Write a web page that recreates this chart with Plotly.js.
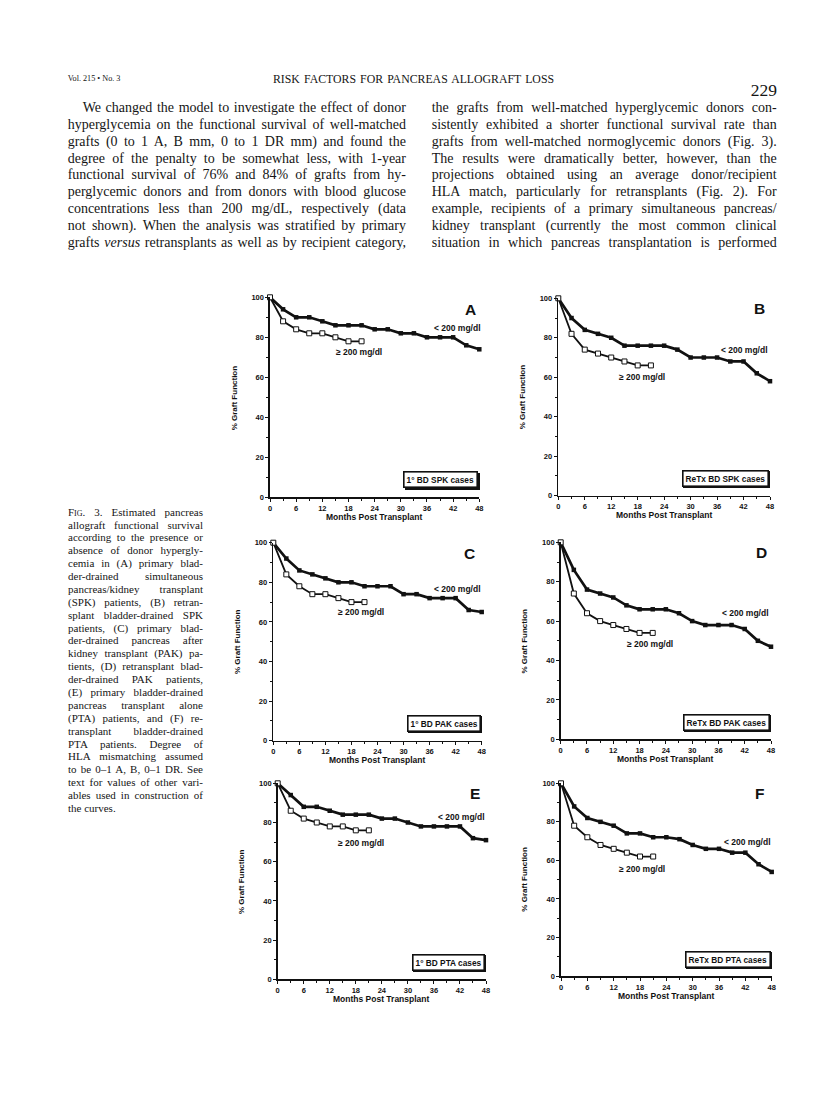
<!DOCTYPE html>
<html>
<head>
<meta charset="utf-8">
<script src="https://cdn.plot.ly/plotly-3.0.1.min.js"></script>
<style>
  html, body { margin: 0; padding: 0; background: #fff; }
  #page { position: relative; width: 816px; height: 1116px; overflow: hidden; background: #fff; }
  #plot { position: absolute; left: 0; top: 0; width: 816px; height: 1116px; }
  .t { position: absolute; font-family: "Liberation Serif", "Times New Roman", serif; color: #151515; white-space: nowrap; z-index: 5; }
  .sc { font-variant: small-caps; }
</style>
</head>
<body>
<div id="page"><div id="plot"></div></div>
<script>
// ---------------- data ----------------
const months = [0, 3, 6, 9, 12, 15, 18, 21, 24, 27, 30, 33, 36, 39, 42, 45, 48];
const monthsHigh = [0, 3, 6, 9, 12, 15, 18, 21];
const xTickVals = [0, 6, 12, 18, 24, 30, 36, 42, 48];
const yTickVals = [0, 20, 40, 60, 80, 100];

const panelLetters = ['A', 'B', 'C', 'D', 'E', 'F'];
const caseLabels = ['1° BD SPK cases', 'ReTx BD SPK cases', '1° BD PAK cases',
                    'ReTx BD PAK cases', '1° BD PTA cases', 'ReTx BD PTA cases'];
const lowLabel = '< 200 mg/dl';
const highLabel = '≥ 200 mg/dl';
const yTitle = '% Graft Function';
const xTitle = 'Months Post Transplant';

const lowA  = [100, 94, 90, 90, 88, 86, 86, 86, 84, 84, 82, 82, 80, 80, 80, 76, 74];
const highA = [100, 88, 84, 82, 82, 80, 78, 78];
const lowB  = [100, 90, 84, 82, 80, 76, 76, 76, 76, 74, 70, 70, 70, 68, 68, 62, 58];
const highB = [100, 82, 74, 72, 70, 68, 66, 66];
const lowC  = [100, 92, 86, 84, 82, 80, 80, 78, 78, 78, 74, 74, 72, 72, 72, 66, 65];
const highC = [100, 84, 78, 74, 74, 72, 70, 70];
const lowD  = [100, 86, 76, 74, 72, 68, 66, 66, 66, 64, 60, 58, 58, 58, 56, 50, 47];
const highD = [100, 74, 64, 60, 58, 56, 54, 54];
const lowE  = [100, 94, 88, 88, 86, 84, 84, 84, 82, 82, 80, 78, 78, 78, 78, 72, 71];
const highE = [100, 86, 82, 80, 78, 78, 76, 76];
const lowF  = [100, 88, 82, 80, 78, 74, 74, 72, 72, 71, 68, 66, 66, 64, 64, 58, 54];
const highF = [100, 78, 72, 68, 66, 64, 62, 62];

const lowSeries = [lowA, lowB, lowC, lowD, lowE, lowF];
const highSeries = [highA, highB, highC, highD, highE, highF];

// ---------------- page text ----------------
const headerLeft = 'Vol. 215 • No. 3';
const headerTitle = 'RISK FACTORS FOR PANCREAS ALLOGRAFT LOSS';
const pageNumber = '229';

const leftColumn = [
  'We changed the model to investigate the effect of donor',
  'hyperglycemia on the functional survival of well-matched',
  'grafts (0 to 1 A, B mm, 0 to 1 DR mm) and found the',
  'degree of the penalty to be somewhat less, with 1-year',
  'functional survival of 76% and 84% of grafts from hy-',
  'perglycemic donors and from donors with blood glucose',
  'concentrations less than 200 mg/dL, respectively (data',
  'not shown). When the analysis was stratified by primary',
  'grafts <i>versus</i> retransplants as well as by recipient category,'
];
const rightColumn = [
  'the grafts from well-matched hyperglycemic donors con-',
  'sistently exhibited a shorter functional survival rate than',
  'grafts from well-matched normoglycemic donors (Fig. 3).',
  'The results were dramatically better, however, than the',
  'projections obtained using an average donor/recipient',
  'HLA match, particularly for retransplants (Fig. 2). For',
  'example, recipients of a primary simultaneous pancreas/',
  'kidney transplant (currently the most common clinical',
  'situation in which pancreas transplantation is performed'
];
const captionLines = [
  '<span class="sc">Fig.</span> 3. Estimated pancreas',
  'allograft functional survival',
  'according to the presence or',
  'absence of donor hypergly-',
  'cemia in (A) primary blad-',
  'der-drained simultaneous',
  'pancreas/kidney transplant',
  '(SPK) patients, (B) retran-',
  'splant bladder-drained SPK',
  'patients, (C) primary blad-',
  'der-drained pancreas after',
  'kidney transplant (PAK) pa-',
  'tients, (D) retransplant blad-',
  'der-drained PAK patients,',
  '(E) primary bladder-drained',
  'pancreas transplant alone',
  '(PTA) patients, and (F) re-',
  'transplant bladder-drained',
  'PTA patients. Degree of',
  'HLA mismatching assumed',
  'to be 0–1 A, B, 0–1 DR. See',
  'text for values of other vari-',
  'ables used in construction of',
  'the curves.'
];

// ---------------- layout geometry (pixels) ----------------
const W = 816, H = 1116;
// [x at 0 months, x at 48 months, y at 100%, y at 0%]
const boxes = [
  [270.0, 479.3, 297.3, 497.3],
  [558.3, 770.0, 298.3, 495.7],
  [273.3, 481.7, 542.7, 740.7],
  [560.7, 771.0, 542.3, 739.3],
  [277.7, 486.0, 783.3, 979.3],
  [561.0, 771.7, 783.3, 976.0]
];
// label anchors: [letterX, letterY, lowRightShiftPx, lowY, highCenterX, highY]
const labelPos = [
  [45.9, 93.7, 4.0, 84.5, 20.5, 72.8],
  [45.6, 95.0, 0.0, 74.0, 18.9, 60.3],
  [45.3, 94.6, 1.7, 76.8, 20.1, 65.2],
  [45.9, 94.8, 0.0, 64.3, 20.4, 48.6],
  [45.5, 94.9, 1.0, 83.0, 19.1, 69.7],
  [45.3, 94.8, 1.0, 69.4, 18.4, 55.4]
];

const INK = '#111111';
const SANS = '"Liberation Sans", Arial, Helvetica, sans-serif';

const traces = [];
const layout = {
  width: W, height: H,
  margin: {l: 0, r: 0, t: 0, b: 0, pad: 0},
  paper_bgcolor: 'rgba(0,0,0,0)',
  plot_bgcolor: 'rgba(0,0,0,0)',
  showlegend: false,
  annotations: [],
  shapes: []
};

boxes.forEach((b, i) => {
  const n = i + 1;
  const xa = n === 1 ? 'xaxis' : 'xaxis' + n;
  const ya = n === 1 ? 'yaxis' : 'yaxis' + n;
  const xr = n === 1 ? 'x' : 'x' + n;
  const yr = n === 1 ? 'y' : 'y' + n;
  const [x0, x1, yt, yb] = b;

  layout[xa] = {
    domain: [x0 / W, x1 / W], anchor: yr, range: [0, 48],
    tickvals: xTickVals, ticks: 'outside', ticklen: 3, tickwidth: 1, tickcolor: INK,
    minor: {dtick: 3, tick0: 0, ticks: 'outside', ticklen: 2, tickwidth: 1, tickcolor: INK},
    showline: true, linecolor: INK, linewidth: 1.6, mirror: false,
    showgrid: false, zeroline: false, fixedrange: true,
    tickfont: {family: SANS, size: 7.5, color: INK, weight: 'bold'}
  };
  layout[ya] = {
    domain: [1 - yb / H, 1 - yt / H], anchor: xr, range: [0, 100],
    tickvals: yTickVals, ticks: 'outside', ticklen: 3, tickwidth: 1, tickcolor: INK,
    minor: {dtick: 10, tick0: 0, ticks: 'outside', ticklen: 2, tickwidth: 1, tickcolor: INK},
    showline: true, linecolor: INK, linewidth: 1.6, mirror: false,
    showgrid: false, zeroline: false, fixedrange: true,
    tickfont: {family: SANS, size: 7.5, color: INK, weight: 'bold'}
  };

  traces.push({
    type: 'scatter', mode: 'lines+markers', x: months, y: lowSeries[i],
    xaxis: xr, yaxis: yr, cliponaxis: false,
    line: {color: INK, width: 2.7},
    marker: {symbol: 'square', size: 4.5, color: INK, line: {width: 0}},
    hoverinfo: 'skip'
  });
  traces.push({
    type: 'scatter', mode: 'lines+markers', x: monthsHigh, y: highSeries[i],
    xaxis: xr, yaxis: yr, cliponaxis: false,
    line: {color: INK, width: 1.8},
    marker: {symbol: 'square', size: 5, color: '#ffffff', line: {width: 1, color: INK}},
    hoverinfo: 'skip'
  });

  const p = labelPos[i];
  layout.annotations.push({
    xref: xr, yref: yr, x: p[0], y: p[1], text: panelLetters[i], showarrow: false,
    font: {family: SANS, size: 15.5, color: INK, weight: 'bold'}, xanchor: 'center', yanchor: 'middle'
  });
  layout.annotations.push({
    xref: xr, yref: yr, x: 48, y: p[3], xshift: p[2], text: lowLabel, showarrow: false,
    font: {family: SANS, size: 8.5, color: INK, weight: 'bold'}, xanchor: 'right', yanchor: 'middle'
  });
  layout.annotations.push({
    xref: xr, yref: yr, x: p[4], y: p[5], text: highLabel, showarrow: false,
    font: {family: SANS, size: 8.5, color: INK, weight: 'bold'}, xanchor: 'center', yanchor: 'middle'
  });
  // case label box: drop shadow first, then the framed label
  layout.annotations.push({
    xref: xr, yref: yr, x: 47.8, y: 8.7, xshift: 1.3, yshift: -1.3, text: caseLabels[i], showarrow: false,
    font: {family: SANS, size: 8.3, color: INK, weight: 'bold'}, xanchor: 'right', yanchor: 'middle',
    bordercolor: INK, borderwidth: 1.6, borderpad: 2, bgcolor: INK
  });
  layout.annotations.push({
    xref: xr, yref: yr, x: 47.8, y: 8.7, text: caseLabels[i], showarrow: false,
    font: {family: SANS, size: 8.3, color: INK, weight: 'bold'}, xanchor: 'right', yanchor: 'middle',
    bordercolor: INK, borderwidth: 1.6, borderpad: 2, bgcolor: '#ffffff'
  });
  // axis titles
  layout.annotations.push({
    xref: 'paper', yref: 'paper', x: (x0 - 36) / W, y: 1 - ((yt + yb) / 2) / H,
    text: yTitle, textangle: -90, showarrow: false,
    font: {family: SANS, size: 8, color: INK, weight: 'bold'}, xanchor: 'center', yanchor: 'middle'
  });
  layout.annotations.push({
    xref: 'paper', yref: 'paper', x: ((x0 + x1) / 2) / W, y: 1 - (yb + 19.5) / H,
    text: xTitle, showarrow: false,
    font: {family: SANS, size: 8.5, color: INK, weight: 'bold'}, xanchor: 'center', yanchor: 'middle'
  });
});

Plotly.newPlot('plot', traces, layout, {displayModeBar: false, staticPlot: true});

// ---------------- page text placement ----------------
const page = document.getElementById('page');
function addText(html, left, centerY, size, lh, extra) {
  const d = document.createElement('div');
  d.className = 't';
  d.style.left = left + 'px';
  d.style.top = (centerY - lh / 2) + 'px';
  d.style.fontSize = size + 'px';
  d.style.lineHeight = lh + 'px';
  d.innerHTML = html;
  if (extra) Object.assign(d.style, extra);
  page.appendChild(d);
  return d;
}
function justify(d, target) {
  const w = d.getBoundingClientRect().width;
  const txt = d.textContent;
  const spaces = (txt.match(/ /g) || []).length;
  let diff = target - w;
  if (diff < -spaces * 1.2) {
    const ls = (diff + spaces * 1.0) / txt.length;
    d.style.letterSpacing = ls + 'px';
    diff = target - d.getBoundingClientRect().width;
  }
  if (spaces > 0) d.style.wordSpacing = (diff / spaces) + 'px';
}
function column(lines, left, width, firstCenter, step, size, indentFirst, lastRagged) {
  lines.forEach((ln, k) => {
    const ind = (k === 0 ? indentFirst : 0);
    const d = addText(ln, left + ind, firstCenter + k * step, size, step);
    if (!(lastRagged && k === lines.length - 1)) justify(d, width - ind);
  });
}

addText(headerLeft, 67.7, 79, 8.2, 12);
const ht = addText(headerTitle, 273, 79, 11.8, 14);
justify(ht, 281);
const pn = addText(pageNumber, 0, 89.5, 17.5, 20);
pn.style.left = (777 - pn.getBoundingClientRect().width) + 'px';

column(leftColumn, 67.7, 338.3, 108.3, 16.9, 14, 15, false);
column(rightColumn, 431.7, 345, 108.3, 16.9, 14, 0, false);
column(captionLines, 68, 135, 512.1, 12.88, 11, 0, true);
</script>
</body>
</html>
